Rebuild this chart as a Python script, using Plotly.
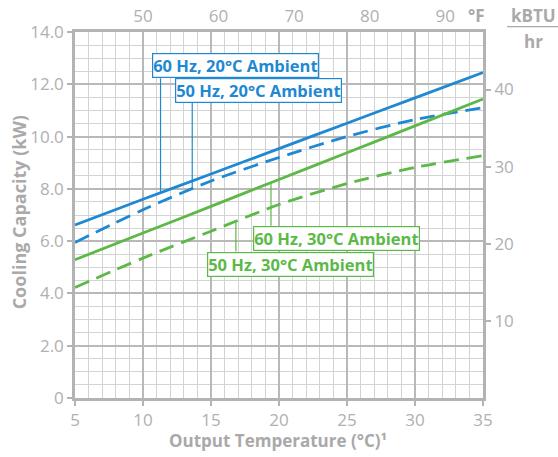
import numpy as np
import plotly.graph_objects as go

# ---- data ----
temps_c = [5, 10, 15, 20, 25, 30, 35]
hz60_amb20 = [6.62, 7.60, 8.57, 9.54, 10.51, 11.48, 12.45]
hz50_amb20 = [5.95, 7.20, 8.30, 9.20, 10.00, 10.65, 11.10]
hz60_amb30 = [5.29, 6.31, 7.33, 8.36, 9.38, 10.41, 11.44]
hz50_amb30 = [4.23, 5.35, 6.38, 7.40, 8.20, 8.82, 9.27]

series_names = ["60 Hz, 20°C Ambient", "50 Hz, 20°C Ambient",
                "60 Hz, 30°C Ambient", "50 Hz, 30°C Ambient"]

y_tickvals = [0, 2, 4, 6, 8, 10, 12, 14]
y_ticktext = ["0", "2.0", "4.0", "6.0", "8.0", "10.0", "12.0", "14.0"]
x_tickvals = [5, 10, 15, 20, 25, 30, 35]
f_tickvals = [50, 60, 70, 80, 90]
btu_tickvals = [10, 20, 30, 40]
KW_TO_KBTU = 3.39

BLUE = "#1f88d2"
GREEN = "#5cb947"
GRAY_TXT = "#b0b0b0"
GRAY_TITLE = "#a9a9a9"
FONT = "Open Sans"

fig = go.Figure()

styles = [(hz60_amb20, BLUE, "solid"), (hz50_amb20, BLUE, "15px,8px"),
          (hz60_amb30, GREEN, "solid"), (hz50_amb30, GREEN, "15px,8px")]
for (vals, col, dash), name in zip(styles, series_names):
    fig.add_trace(go.Scatter(x=temps_c, y=vals, mode="lines", name=name,
                             line=dict(color=col, width=2.8, dash=dash,
                                       shape="spline", smoothing=0.8),
                             showlegend=False, hoverinfo="skip"))

# invisible helper traces so the secondary axes are drawn
fig.add_trace(go.Scatter(x=[41, 95], y=[0, 0], xaxis="x2", yaxis="y",
                         mode="markers", marker=dict(opacity=0),
                         showlegend=False, hoverinfo="skip"))
fig.add_trace(go.Scatter(x=[5, 35], y=[0, 0], xaxis="x", yaxis="y2",
                         mode="markers", marker=dict(opacity=0),
                         showlegend=False, hoverinfo="skip"))

# ---- labels with connectors ----
labels = [
    (0, 10.63, 12.23, "bottom", 11.29, 12.23, BLUE),
    (1, 12.34, 11.28, "bottom", 13.62, 11.28, BLUE),
    (2, 18.11, 6.59, "top", 19.41, 6.59, GREEN),
    (3, 14.72, 5.60, "top", 16.83, 5.60, GREEN),
]
for idx, bx, by, yanc, cx, edge, col in labels:
    curve_y = float(np.interp(cx, temps_c, styles[idx][0]))
    fig.add_shape(type="line", x0=cx, x1=cx, y0=curve_y, y1=edge,
                  line=dict(color=col, width=1.2), xref="x", yref="y")
    fig.add_annotation(x=bx, y=by, xref="x", yref="y", text=series_names[idx],
                       xanchor="left", yanchor=yanc, showarrow=False,
                       font=dict(family=FONT, size=16.5, color=col, weight="bold"),
                       bgcolor="white", bordercolor=col, borderwidth=1.2, borderpad=0)

# ---- titles ----
fig.add_annotation(x=0.4975, y=-0.115, xref="paper", yref="paper",
                   text="Output Temperature (°C)¹", showarrow=False,
                   xanchor="center", yanchor="middle",
                   font=dict(family=FONT, size=17, color=GRAY_TITLE, weight="bold"))
fig.add_annotation(x=-0.135, y=0.507, xref="paper", yref="paper",
                   text="Cooling Capacity (kW)", showarrow=False, textangle=-90,
                   xanchor="center", yanchor="middle",
                   font=dict(family=FONT, size=18, color=GRAY_TITLE, weight="bold"))
fig.add_annotation(x=0.985, y=1.044, xref="paper", yref="paper", text="°F",
                   showarrow=False, xanchor="center", yanchor="middle",
                   font=dict(family=FONT, size=17, color=GRAY_TITLE, weight="bold"))
fig.add_annotation(x=1.123, y=1.046, xref="paper", yref="paper", text="kBTU",
                   showarrow=False, xanchor="center", yanchor="middle",
                   font=dict(family=FONT, size=17, color=GRAY_TITLE, weight="bold"))
fig.add_annotation(x=1.123, y=0.973, xref="paper", yref="paper", text="hr",
                   showarrow=False, xanchor="center", yanchor="middle",
                   font=dict(family=FONT, size=17, color=GRAY_TITLE, weight="bold"))
fig.add_shape(type="line", xref="paper", yref="paper", x0=1.059, x1=1.184,
              y0=1.0145, y1=1.0145, line=dict(color=GRAY_TITLE, width=1.3))

tickfont = dict(family=FONT, size=17, color=GRAY_TXT)
fig.update_layout(
    width=558, height=457,
    margin=dict(l=75, r=75, t=32, b=59),
    paper_bgcolor="white", plot_bgcolor="white",
    xaxis=dict(range=[5, 35], tickmode="array", tickvals=x_tickvals, automargin=False,
               showgrid=True, gridcolor="#b9b9b9", gridwidth=1.5,
               minor=dict(dtick=1, showgrid=True, gridcolor="#d3d3d3", gridwidth=1),
               showline=True, linecolor="#b3b3b3", linewidth=2.5, mirror=True,
               ticks="outside", ticklen=5, tickcolor="#b3b3b3", tickwidth=1.5,
               tickfont=tickfont, zeroline=False),
    yaxis=dict(range=[0, 14], tickmode="array", tickvals=y_tickvals, ticktext=y_ticktext,
               automargin=False,
               showgrid=True, gridcolor="#b9b9b9", gridwidth=1.5,
               minor=dict(dtick=0.5, showgrid=True, gridcolor="#d3d3d3", gridwidth=1),
               showline=True, linecolor="#b3b3b3", linewidth=2.5, mirror=True,
               ticks="outside", ticklen=5, tickcolor="#b3b3b3", tickwidth=1.5,
               tickfont=tickfont, zeroline=False),
    xaxis2=dict(overlaying="x", side="top", range=[41, 95], tickmode="array",
                automargin=False,
                tickvals=f_tickvals, showgrid=False, showline=False, zeroline=False,
                ticks="outside", ticklen=2, tickcolor="rgba(0,0,0,0)",
                tickfont=tickfont),
    yaxis2=dict(overlaying="y", side="right", range=[0, 14 * KW_TO_KBTU],
                automargin=False,
                tickmode="array", tickvals=btu_tickvals, showgrid=False,
                showline=False, zeroline=False, ticks="outside", ticklen=7,
                tickcolor="#b3b3b3", tickwidth=1.5, tickfont=tickfont),
)

fig.write_html("out.html", config={"displayModeBar": False},
               post_script="document.body.style.margin='0';")
